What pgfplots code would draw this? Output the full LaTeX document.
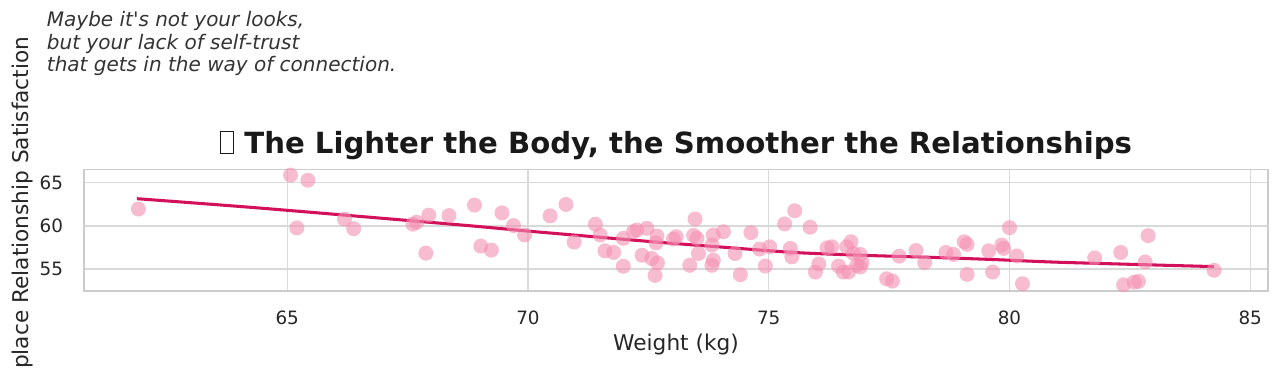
\documentclass[border=0pt]{standalone}
\usepackage{pgfplots}
\pgfplotsset{compat=1.18}
\usepackage{fontspec}
\setmainfont{DejaVu Sans}
\definecolor{ptpink}{HTML}{F48FB1}
\definecolor{ptline}{HTML}{D3105A}
\definecolor{gridc}{HTML}{D9D9D9}
\definecolor{spinec}{HTML}{CCCCCC}
\definecolor{txt}{HTML}{262626}
\definecolor{ann}{HTML}{333333}
\begin{document}
\begin{tikzpicture}
\begin{axis}[
  at={(0,0)}, anchor=south west,
  scale only axis, width=852.5pt, height=87.5pt,
  xmin=60.78, xmax=85.37, ymin=52.45, ymax=66.55,
  xtick={65,70,75,80,85}, ytick={55,60,65},
  major tick length=0pt,
  grid=major,
  major grid style={draw=gridc, line width=0.9pt},
  axis line style={draw=spinec, line width=1.2pt},
  /pgf/number format/assume math mode=true,
  tick label style={font=\fontsize{13.2}{15}\selectfont, text=txt},
  xticklabel style={anchor=north, inner sep=0pt, yshift=-14.3pt},
  yticklabel style={anchor=east, inner sep=0pt, xshift=-14.9pt},
  clip=false,
]
\addplot[only marks, color=ptpink, mark=*, mark size=5.4pt,
  mark options={color=ptpink, draw opacity=0, fill opacity=0.6}] coordinates {
(61.91,61.96) (65.07,65.9) (65.43,65.3) (65.2,59.77) (66.19,60.78) (66.38,59.68)
(67.61,60.2) (67.69,60.43) (67.94,61.25) (67.88,56.84) (68.36,61.2) (68.89,62.42)
(69.46,61.52) (69.02,57.66) (69.24,57.19) (69.70,60.04) (69.93,58.95) (70.46,61.17)
(70.79,62.49) (70.96,58.13) (71.40,60.2) (71.50,58.95) (71.60,57.11) (71.78,56.92)
(71.98,55.32) (71.98,58.56) (72.19,59.33) (72.26,59.53) (72.47,59.73) (72.37,56.6)
(72.57,56.22) (72.64,54.26) (72.68,58.83) (72.66,58.04) (72.69,55.7) (73.02,58.48)
(73.08,58.75) (73.36,55.43) (73.47,60.8) (73.44,58.9) (73.51,58.56) (73.54,56.8)
(73.85,58.95) (74.06,59.33) (73.82,57.78) (73.85,56.02) (73.82,55.43) (74.30,56.8)
(74.41,54.34) (74.63,59.22) (74.81,57.31) (75.02,57.58) (74.93,55.35) (75.33,60.23)
(75.54,61.76) (75.86,59.85) (75.45,57.39) (75.48,56.41) (76.04,55.59) (75.97,54.65)
(76.21,57.46) (76.31,57.58) (76.45,55.35) (76.55,54.65) (76.66,54.65) (76.62,57.58)
(76.71,58.16) (76.76,56.8) (76.83,55.43) (76.90,56.69) (76.94,55.75) (76.90,55.23)
(77.71,56.49) (77.45,53.87) (77.57,53.6) (78.06,57.15) (78.24,55.75) (78.68,56.92)
(78.84,56.69) (79.06,58.16) (79.12,57.86) (79.12,54.38) (79.57,57.11) (79.65,54.65)
(79.84,57.78) (79.88,57.39) (80.0,59.8) (80.15,56.52) (80.27,53.29) (81.77,56.29)
(82.31,56.92) (82.37,53.17) (82.59,53.48) (82.68,53.56) (82.82,55.82) (82.88,58.87)
(84.25,54.85)
};
\addplot[ptline, line width=2.2pt, smooth, tension=0.4, mark=none] coordinates {
(61.88,63.16) (64.44,62.07) (68.59,60.12) (69.98,59.41) (71.36,58.75) (72.75,58.09)
(74.13,57.5) (75.52,56.92) (76.90,56.6) (78.29,56.37) (79.67,56.1) (81.05,55.78) (84.25,55.28)
};
\end{axis}
% title
\node[anchor=base, text=black!90, font=\fontsize{21}{25}\selectfont\bfseries, inner sep=0pt] at (426.25pt,99.1pt)
 {{\setlength\fboxsep{0pt}\setlength\fboxrule{0.7pt}\fbox{\rule{0pt}{0.72em}\hspace{0.42em}}}\hspace{0.35em}The Lighter the Body, the Smoother the Relationships};
% axis labels
\node[anchor=base, text=txt, font=\fontsize{15.6}{18}\selectfont, inner sep=0pt] at (426.25pt,-42.5pt) {Weight (kg)};
\node[anchor=base, rotate=90, text=txt, font=\fontsize{15.6}{18}\selectfont, inner sep=0pt] at (-40.3pt,43.75pt) {Workplace Relationship Satisfaction};
% annotation
\node[anchor=base west, text=ann, font=\fontsize{14.4}{17}\selectfont\itshape\addfontfeatures{Ligatures=TeXOff}, inner sep=0pt] at (-26.9pt,190.3pt) {Maybe it's not your looks,};
\node[anchor=base west, text=ann, font=\fontsize{14.4}{17}\selectfont\itshape, inner sep=0pt] at (-26.9pt,174.0pt) {but your lack of self-trust};
\node[anchor=base west, text=ann, font=\fontsize{14.4}{17}\selectfont\itshape, inner sep=0pt] at (-26.9pt,157.9pt) {that gets in the way of connection.};
\pgfresetboundingbox
\useasboundingbox (-60.48pt,-55.44pt) rectangle (861.12pt,209.52pt);
\end{tikzpicture}
\end{document}
